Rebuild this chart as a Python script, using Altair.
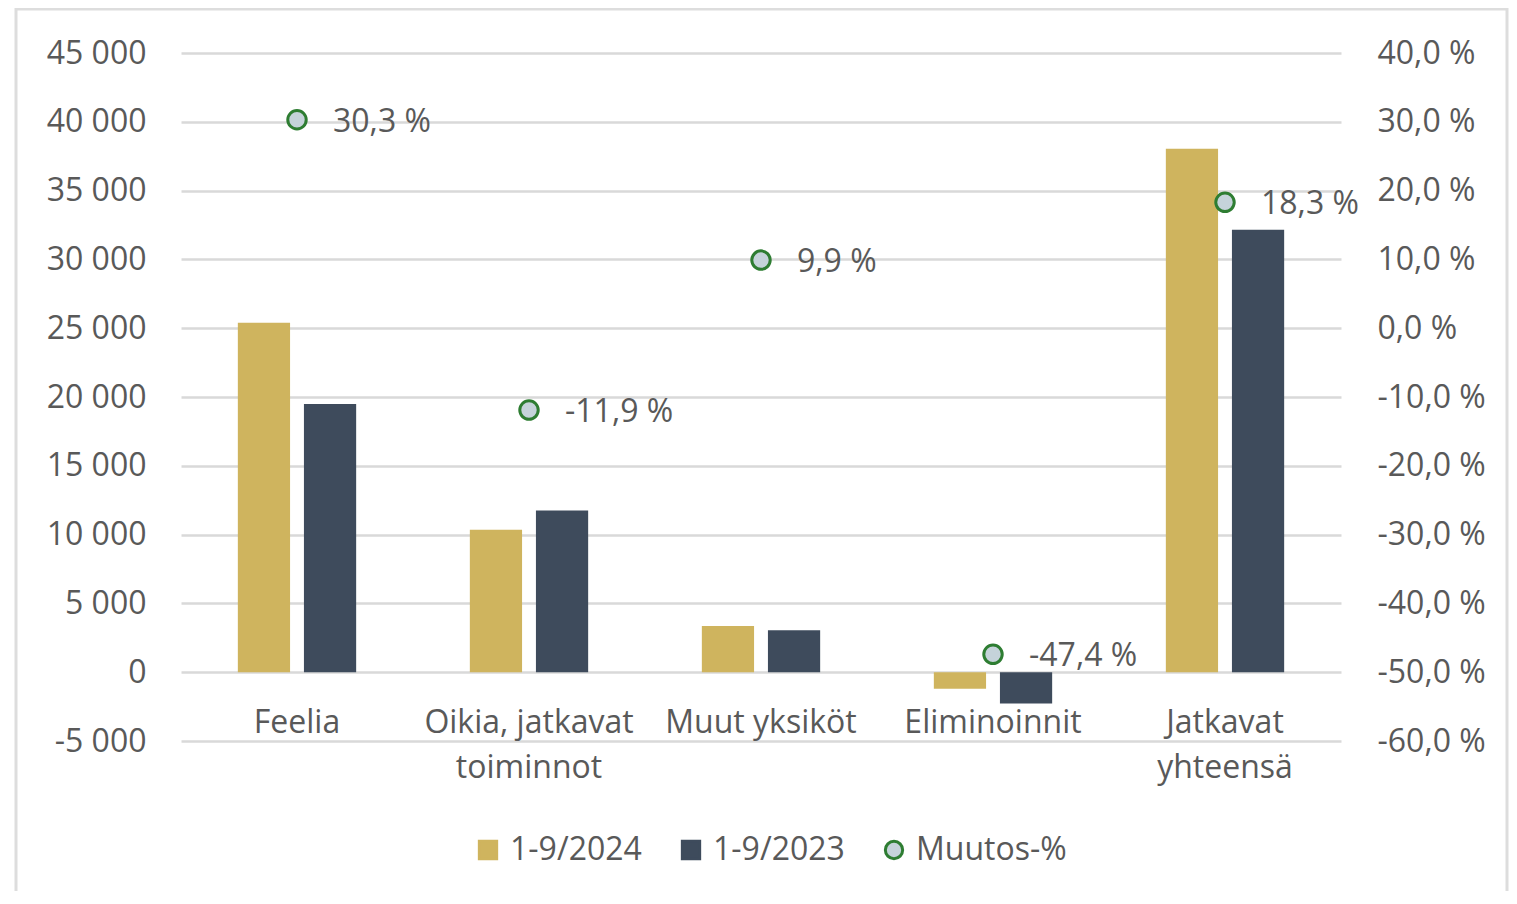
import altair as alt
import pandas as pd

categories = ["Feelia", "Oikia, jatkavat\ntoiminnot", "Muut yksiköt", "Eliminoinnit", "Jatkavat\nyhteensä"]
series_names = ["1-9/2024", "1-9/2023", "Muutos-%"]
values_2024 = [25400, 10350, 3350, -1200, 38050]
values_2023 = [19500, 11750, 3050, -2280, 32150]
changes = [30.3, -11.9, 9.9, -47.4, 18.3]

left_ticks = list(range(-5000, 45001, 5000))
right_ticks = list(range(-60, 41, 10))

fill_colors = ["#CFB45E", "#3E4B5C", "#C5D3DA"]
stroke_colors = ["#CFB45E", "#3E4B5C", "#2E7D32"]
shapes = ["square", "square", "circle"]

FONT = "Open Sans"
TXT = "#595959"
FS = 32

bars_df = pd.DataFrame(
    [{"category": c, "series": series_names[0], "value": v} for c, v in zip(categories, values_2024)]
    + [{"category": c, "series": series_names[1], "value": v} for c, v in zip(categories, values_2023)]
)
pts_df = pd.DataFrame({
    "category": categories,
    "series": series_names[2],
    "change": changes,
    "label": [f"{v:.1f}".replace(".", ",") + " %" for v in changes],
})

color_scale = alt.Scale(domain=series_names, range=fill_colors)
stroke_scale = alt.Scale(domain=series_names, range=stroke_colors)
shape_scale = alt.Scale(domain=series_names, range=shapes)

legend = alt.Legend(
    title=None, orient="none", direction="horizontal", legendX=291, legendY=781,
    labelFont=FONT, labelFontSize=FS, labelColor=TXT, symbolSize=300,
    symbolStrokeWidth=3, columnPadding=33, labelOffset=6, labelLimit=400,
)

x_enc = alt.X(
    "category:N", sort=categories,
    scale=alt.Scale(paddingInner=0.49, paddingOuter=0.245),
    axis=alt.Axis(
        title=None, labelAngle=0, offset=-69, ticks=False, domain=False, grid=False,
        labelFont=FONT, labelFontSize=FS, labelColor=TXT, labelLineHeight=45,
        labelPadding=35, labelLimit=400, labelExpr="split(datum.label, '\\n')",
    ),
)

bars = alt.Chart(bars_df).mark_bar().encode(
    x=x_enc,
    xOffset=alt.XOffset("series:N", sort=series_names[:2],
                        scale=alt.Scale(paddingInner=0.21, paddingOuter=0)),
    y=alt.Y(
        "value:Q",
        scale=alt.Scale(domain=[-5000, 45000], nice=False, zero=False),
        axis=alt.Axis(
            title=None, orient="left", values=left_ticks, domain=False, ticks=False,
            grid=True, gridColor="#D9D9D9", gridWidth=2.5, labelPadding=35,
            labelFont=FONT, labelFontSize=FS, labelColor=TXT,
            labelExpr="(datum.value < 0 ? '-' : '') + replace(format(abs(datum.value), ',d'), ',', ' ')",
        ),
    ),
    color=alt.Color("series:N", scale=color_scale, legend=legend),
)

y_right = alt.Y(
    "change:Q",
    scale=alt.Scale(domain=[-60, 40], nice=False, zero=False),
    axis=alt.Axis(
        title=None, orient="right", values=right_ticks, domain=False, ticks=False,
        grid=False, labelPadding=36, labelFont=FONT, labelFontSize=FS, labelColor=TXT,
        labelExpr="(datum.value < 0 ? '-' : '') + replace(format(abs(datum.value), '.1f'), '.', ',') + ' %'",
    ),
)

points = alt.Chart(pts_df).mark_point(filled=True, size=340, strokeWidth=3, opacity=1).encode(
    x=alt.X("category:N", sort=categories),
    y=y_right,
    color=alt.Color("series:N", scale=color_scale, legend=legend),
    stroke=alt.Stroke("series:N", scale=stroke_scale, legend=legend),
    shape=alt.Shape("series:N", scale=shape_scale, legend=legend),
)

labels = alt.Chart(pts_df).mark_text(
    align="left", baseline="middle", dx=36, dy=2, font=FONT, fontSize=FS, color=TXT
).encode(
    x=alt.X("category:N", sort=categories),
    y=alt.Y("change:Q"),
    text="label:N",
)

frame = alt.Chart(pd.DataFrame({"k": [0]})).mark_rect(
    fill=None, stroke="#DDDDDD", strokeWidth=3
).encode(
    x=alt.value(-165), x2=alt.value(1326), y=alt.value(-44), y2=alt.value(1000)
)

chart = alt.layer(frame, bars, alt.layer(points, labels)).resolve_scale(
    y="independent"
).properties(
    width=1160, height=688,
    padding={"left": 173, "top": 45, "right": 168, "bottom": 150},
    autosize=alt.AutoSizeParams(type="none"),
    background="white",
).configure_view(stroke=None)

chart.save("out.html", embed_options={"renderer": "svg", "actions": False})
